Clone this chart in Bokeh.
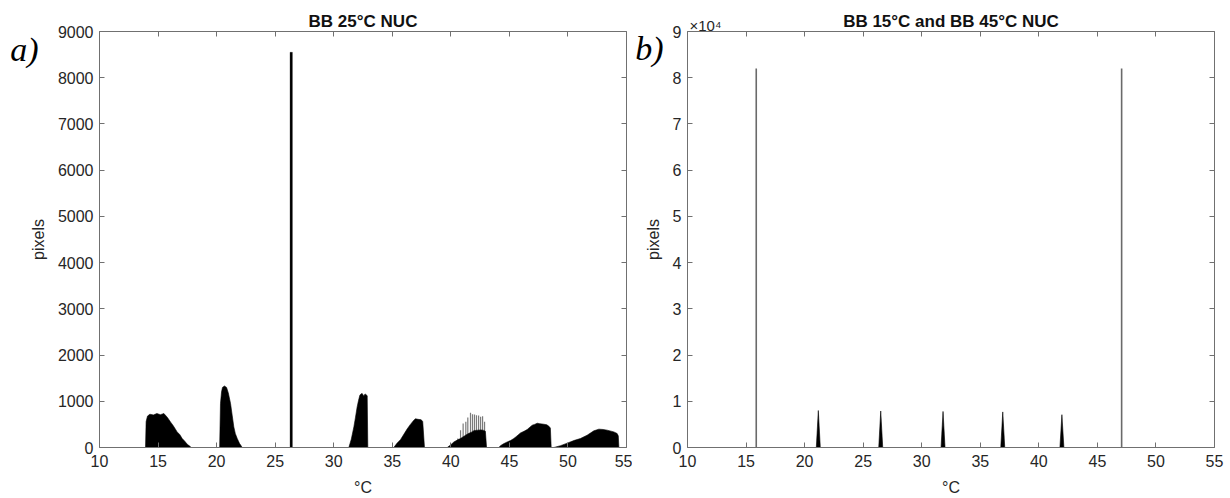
from bokeh.plotting import figure
from bokeh.models import LinearAxis, Range1d, FixedTicker, Title
from bokeh.layouts import row
from bokeh.embed import file_html
from bokeh.resources import INLINE

# ---------------- data: panel a) histogram after BB 25°C NUC ----------------
a_x_ticks = [10, 15, 20, 25, 30, 35, 40, 45, 50, 55]
a_y_ticks = [0, 1000, 2000, 3000, 4000, 5000, 6000, 7000, 8000, 9000]

a_hump1_x = [13.93, 13.98, 14.1, 14.3, 14.6, 14.9, 15.2, 15.5, 15.8, 16.06, 16.3, 16.63, 16.85, 17.06, 17.3, 17.49, 17.7, 17.83]
a_hump1_y = [0, 560, 680, 720, 705, 735, 710, 735, 650, 554, 470, 338, 280, 195, 130, 71, 30, 0]

a_hump2_x = [20.26, 20.33, 20.42, 20.5, 20.67, 20.85, 21.0, 21.19, 21.33, 21.47, 21.6, 21.76, 21.95, 22.19]
a_hump2_y = [0, 950, 1200, 1300, 1330, 1300, 1180, 950, 700, 445, 300, 195, 90, 0]

a_hump3_x = [31.29, 31.5, 31.72, 31.85, 32.0, 32.12, 32.23, 32.33, 32.43, 32.57, 32.65, 32.72, 32.86, 32.91]
a_hump3_y = [0, 180, 446, 640, 878, 1020, 1131, 1160, 1168, 1110, 1150, 1153, 1120, 0]

a_hump4_x = [35.13, 35.4, 35.7, 36.0, 36.28, 36.55, 36.84, 36.98, 37.2, 37.47, 37.6, 37.75]
a_hump4_y = [0, 90, 170, 290, 405, 500, 590, 620, 610, 600, 560, 0]

a_hump5_x = [39.69, 40.0, 40.26, 40.55, 40.83, 41.1, 41.4, 41.6, 41.82, 41.96, 42.3, 42.6, 42.81, 42.95, 43.05]
a_hump5_y = [0, 60, 120, 160, 195, 240, 288, 315, 338, 365, 375, 380, 370, 350, 0]

a_hump6_x = [44.1, 44.24, 44.5, 44.82, 45.1, 45.38, 45.65, 45.95, 46.25, 46.52, 46.75, 46.95, 47.15, 47.38, 47.6, 47.94, 48.2, 48.37, 48.5, 48.57]
a_hump6_y = [0, 40, 80, 121, 150, 195, 250, 316, 350, 389, 440, 482, 500, 525, 515, 504, 490, 461, 420, 0]

a_hump7_x = [48.8, 49.37, 49.94, 50.5, 51.07, 51.64, 52.21, 52.64, 53.0, 53.35, 53.92, 54.2, 54.3, 54.35]
a_hump7_y = [0, 40, 94, 150, 195, 266, 360, 397, 390, 375, 338, 302, 250, 0]

# isolated tall bin at the NUC temperature
a_spike_x = 26.37
a_spike_y = 8550

# comb of single bins standing above hump 5
a_comb_x = [40.32, 40.6, 40.83, 41.05, 41.28, 41.45, 41.68, 41.85, 42.02, 42.19, 42.37, 42.54, 42.71, 42.88]
a_comb_y = [108, 195, 375, 520, 555, 650, 750, 720, 714, 700, 692, 663, 678, 555]

# extent of the zero-count bins
a_bins_range = [12.4, 55.0]

# ---------------- data: panel b) histogram after BB 15°C and BB 45°C NUC ----------------
b_x_ticks = [10, 15, 20, 25, 30, 35, 40, 45, 50, 55]
b_y_ticks = [0, 10000, 20000, 30000, 40000, 50000, 60000, 70000, 80000, 90000]
b_y_labels = ["0", "1", "2", "3", "4", "5", "6", "7", "8", "9"]
b_y_scale = "×10⁴"

b_line_x = [15.87, 47.07]
b_line_y = [82000, 82000]

b_peak_x = [21.17, 26.5, 31.82, 36.92, 41.97]
b_peak_y = [8000, 7900, 7800, 7700, 7100]

b_bins_range = [10.0, 52.7]

# ---------------- styling ----------------
FONT = "Liberation Sans"
TXT = "#262626"
AX = "#707070"


def frame_axes(p, xticks, yticks, ylabels=None):
    p.xaxis.ticker = FixedTicker(ticks=xticks, minor_ticks=[])
    p.yaxis.ticker = FixedTicker(ticks=yticks, minor_ticks=[])
    if ylabels is not None:
        p.yaxis.major_label_overrides = {t: s for t, s in zip(yticks, ylabels)}
    for ax in (p.xaxis[0], p.yaxis[0]):
        ax.major_tick_in = 5
        ax.major_tick_out = 0
        ax.minor_tick_line_color = None
        ax.axis_line_color = AX
        ax.major_tick_line_color = AX
        ax.major_label_text_font = FONT
        ax.major_label_text_font_size = "16px"
        ax.major_label_text_color = TXT
        ax.axis_label_text_font = FONT
        ax.axis_label_text_font_size = "16px"
        ax.axis_label_text_font_style = "normal"
        ax.axis_label_text_color = TXT
    p.xaxis.major_label_standoff = 7
    p.yaxis.major_label_standoff = 6
    p.xaxis.axis_label_standoff = 9
    p.yaxis.axis_label_standoff = 8
    p.xaxis.axis_label = "°C"
    p.yaxis.axis_label = "pixels"

    top = LinearAxis(ticker=FixedTicker(ticks=xticks, minor_ticks=[]),
                     major_label_text_font_size="0px", major_label_standoff=0,
                     major_tick_in=5, major_tick_out=0,
                     axis_line_color=AX, major_tick_line_color=AX,
                     minor_tick_line_color=None)
    right = LinearAxis(ticker=FixedTicker(ticks=yticks, minor_ticks=[]),
                       major_label_text_font_size="0px", major_label_standoff=0,
                       major_tick_in=5, major_tick_out=0,
                       axis_line_color=AX, major_tick_line_color=AX,
                       minor_tick_line_color=None)
    p.add_layout(top, "above")
    p.add_layout(right, "right")
    p.xgrid.grid_line_color = None
    p.ygrid.grid_line_color = None
    p.outline_line_color = None


def panel_tag(p, ypos, text, standoff):
    # the panel letter sits in the left margin, carried by a bare extra axis
    tag = LinearAxis(ticker=FixedTicker(ticks=[ypos], minor_ticks=[]),
                     major_label_overrides={ypos: text},
                     major_label_text_font="Liberation Serif",
                     major_label_text_font_style="italic",
                     major_label_text_font_size="34px",
                     major_label_text_color="black",
                     major_label_standoff=standoff,
                     major_tick_in=0, major_tick_out=0,
                     axis_line_color=None, major_tick_line_color=None,
                     minor_tick_line_color=None)
    p.add_layout(tag, "left")


def title_text(text):
    return Title(text=text, align="center", text_font=FONT, text_font_size="17px",
                 text_font_style="bold", text_color="#111111")


# ---------------- panel a ----------------
pa = figure(width=632, height=498, output_backend="svg", toolbar_location=None,
            x_range=Range1d(10, 55), y_range=Range1d(0, 9000),
            title=title_text("BB 25°C NUC"),
            min_border_left=99, min_border_right=6, min_border_top=31, min_border_bottom=51)
pa.title.standoff = 2
frame_axes(pa, a_x_ticks, a_y_ticks)
panel_tag(pa, 8600, "a)", -12)

pa.segment(x0=a_comb_x, y0=[0] * len(a_comb_x), x1=a_comb_x, y1=a_comb_y,
           line_color="#7a7a7a", line_width=1.2)
pa.patches(xs=[a_hump1_x, a_hump2_x, a_hump3_x, a_hump4_x, a_hump5_x, a_hump6_x, a_hump7_x],
           ys=[a_hump1_y, a_hump2_y, a_hump3_y, a_hump4_y, a_hump5_y, a_hump6_y, a_hump7_y],
           fill_color="black", line_color="black", line_width=0.6)
pa.vbar(x=[a_spike_x], top=[a_spike_y], bottom=0, width=0.2,
        fill_color="black", line_color="black", line_width=0.3)
pa.line(x=a_bins_range, y=[0, 0], line_color="black", line_width=1.2)

# ---------------- panel b ----------------
pb = figure(width=598, height=498, output_backend="svg", toolbar_location=None,
            x_range=Range1d(10, 55), y_range=Range1d(0, 90000),
            min_border_left=55, min_border_right=16, min_border_top=31, min_border_bottom=51)
frame_axes(pb, b_x_ticks, b_y_ticks, b_y_labels)
panel_tag(pb, 86400, "b)", -22)

# exponent note sits just above the frame's top-left corner, title above it
scale_note = Title(text=b_y_scale, align="left", offset=2, standoff=-5,
                   text_font=FONT, text_font_size="15px",
                   text_font_style="normal", text_color=TXT)
pb.add_layout(scale_note, "above")
main_title = title_text("BB 15°C and BB 45°C NUC")
main_title.standoff = -26
pb.add_layout(main_title, "above")

pb.segment(x0=b_line_x, y0=[0] * len(b_line_x), x1=b_line_x, y1=b_line_y,
           line_color="#6a6a6a", line_width=1.6)
half = 0.17
pb.patches(xs=[[c - half, c, c + half] for c in b_peak_x],
           ys=[[0, h, 0] for h in b_peak_y],
           fill_color="black", line_color="black", line_width=0.6)
pb.line(x=b_bins_range, y=[0, 0], line_color="black", line_width=1.2)

layout = row(pa, pb)
open("out.html", "w").write(file_html(layout, INLINE))
